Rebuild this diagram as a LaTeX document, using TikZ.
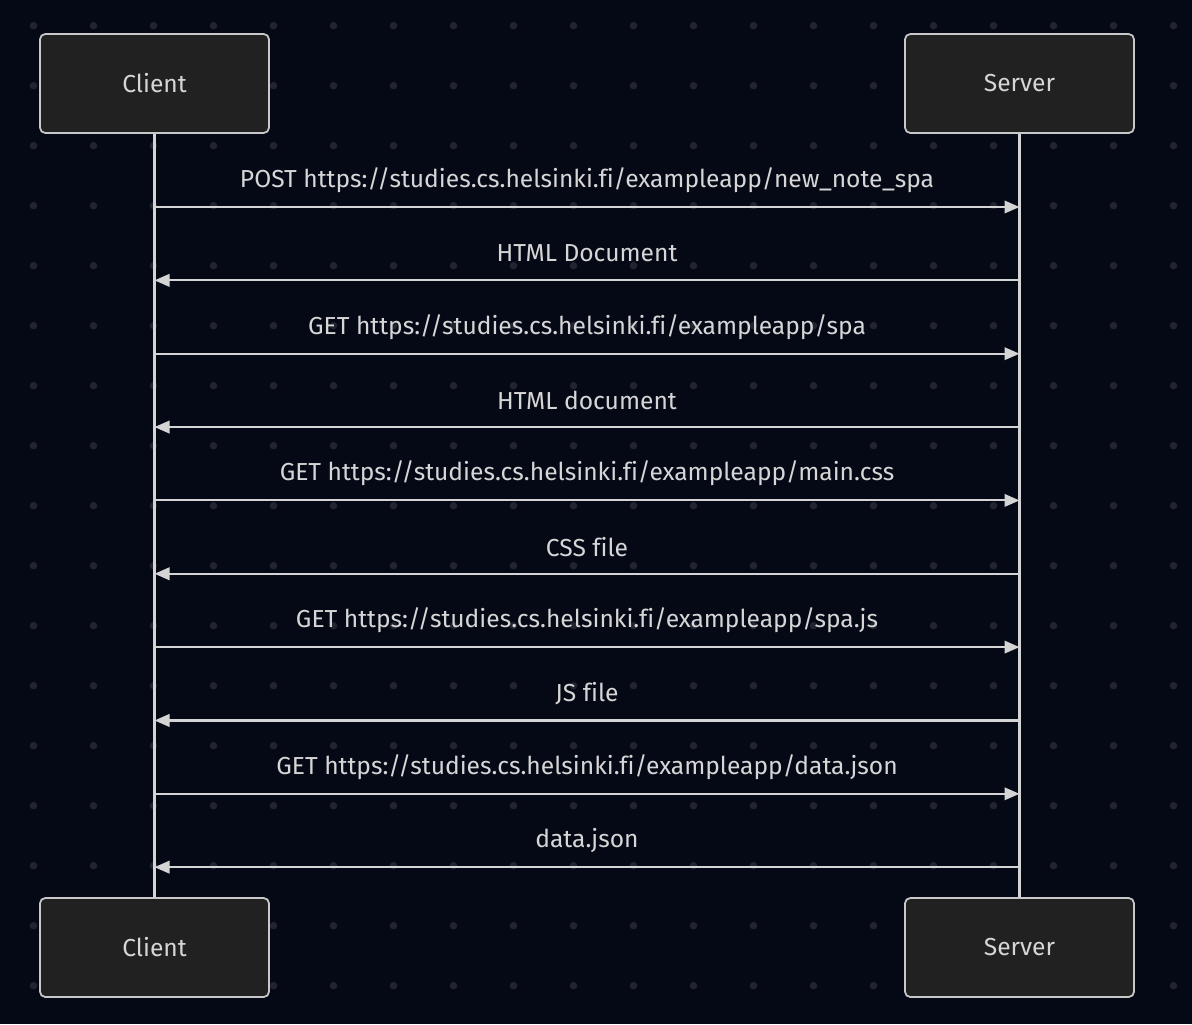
\documentclass[tikz,border=0pt]{standalone}
\usepackage{fontspec}
\setmainfont{Fira Sans}[Ligatures=NoCommon]
\usepackage{tikz}
\usetikzlibrary{arrows.meta,positioning,calc}
\definecolor{PageBg}{RGB}{5,9,22}
\definecolor{GridDot}{RGB}{34,37,48}
\definecolor{ActorFill}{RGB}{33,33,33}
\definecolor{ActorLine}{RGB}{200,200,200}
\definecolor{MsgLine}{RGB}{212,212,212}
\definecolor{MsgText}{RGB}{214,214,214}

\begin{document}
\begin{tikzpicture}[
    font=\fontsize{14}{17}\selectfont,
    actor/.style={draw=ActorLine, fill=ActorFill, line width=1pt, rounded corners=3pt,
                  minimum width=4.58cm, minimum height=1.98cm, text=MsgText},
    life/.style={MsgLine, line width=1.2pt},
    msg/.style={-{Triangle[length=0.3cm,width=0.25cm]}, MsgLine, line width=1.2pt},
    msglabel/.style={text=MsgText, inner sep=0pt},
    >=Stealth
  ]

  % Hintergrund mit Punktraster
  \fill[PageBg] (0,0) rectangle (23.84,-20.48);
  \useasboundingbox (0,0) rectangle (23.84,-20.48);
  \foreach \i in {0,...,19}{
    \foreach \j in {0,...,16}{
      \fill[GridDot] ({0.67+1.2*\i},{-0.514-1.2*\j}) circle (0.075);
    }
  }

  % Teilnehmer oben und unten
  \node[actor] (cltop) at (3.09,-1.67) {Client};
  \node[actor] (svtop) at (20.39,-1.67) {Server};
  \node[actor] (clbot) at (3.09,-18.95) {Client};
  \node[actor] (svbot) at (20.39,-18.95) {Server};

  % Lebenslinien
  \draw[life] (cltop) -- (clbot);
  \draw[life] (svtop) -- (svbot);

  % Nachrichten: Nummer / Richtung / Text
  \foreach \k/\dir/\txt in {
      0/r/{POST https://studies.cs.helsinki.fi/exampleapp/new\_note\_spa},
      1/l/{HTML Document},
      2/r/{GET https://studies.cs.helsinki.fi/exampleapp/spa},
      3/l/{HTML document},
      4/r/{GET https://studies.cs.helsinki.fi/exampleapp/main.css},
      5/l/{CSS file},
      6/r/{GET https://studies.cs.helsinki.fi/exampleapp/spa.js},
      7/l/{JS file},
      8/r/{GET https://studies.cs.helsinki.fi/exampleapp/data.json},
      9/l/{data.json}}{
    \coordinate (c\k) at (cltop.south |- 0,{-4.14-1.467*\k});
    \coordinate (s\k) at (svtop.south |- 0,{-4.14-1.467*\k});
    \node[msglabel] (t\k) at ($(c\k)!0.5!(s\k)+(0,0.54)$) {\txt};
    \if\dir r
      \draw[msg] (c\k) -- (s\k);
    \else
      \draw[msg] (s\k) -- (c\k);
    \fi
  }

\end{tikzpicture}
\end{document}
